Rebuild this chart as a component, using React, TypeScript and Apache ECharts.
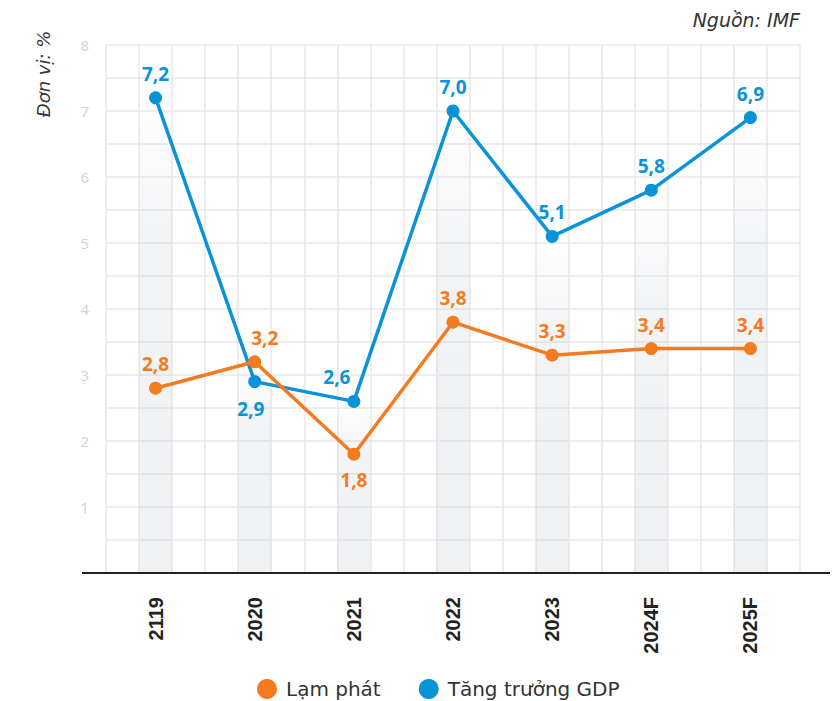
import React, { useEffect, useRef } from "react";
import * as echarts from "echarts";

const categories = ["2119", "2020", "2021", "2022", "2023", "2024F", "2025F"];
const inflation = [2.8, 3.2, 1.8, 3.8, 3.3, 3.4, 3.4];
const gdp = [7.2, 2.9, 2.6, 7.0, 5.1, 5.8, 6.9];
const yTicks = [0, 1, 2, 3, 4, 5, 6, 7, 8];

const ORANGE = "#f47b20";
const BLUE = "#0a93d6";

const fmt = (p: any) => Number(p.value).toFixed(1).replace(".", ",");

export default function App() {
  const ref = useRef<HTMLDivElement>(null);
  useEffect(() => {
    if (!ref.current) return;
    const chart = echarts.init(ref.current, undefined, { renderer: "svg" });
    const bands = categories.map((_, i) => Math.max(inflation[i], gdp[i]));
    const labelFont = { fontFamily: "Open Sans", fontWeight: "bold" as const, fontSize: 19 };
    const gdpData = gdp.map((v, i) => {
      const d: any = { value: v };
      if (i === 1) d.label = { position: "bottom", distance: 11, offset: [-4, 0] };
      if (i === 2) d.label = { position: "top", offset: [-17, 0] };
      return d;
    });
    const infData = inflation.map((v, i) => {
      const d: any = { value: v };
      if (i === 1) d.label = { position: "top", offset: [10, 0] };
      if (i === 2) d.label = { position: "bottom", distance: 10 };
      return d;
    });
    chart.setOption({
      animation: false,
      grid: { left: 106, right: 34, top: 45, bottom: 128 },
      legend: {
        data: ["Lạm phát", "Tăng trưởng GDP"],
        left: 257,
        top: 679,
        icon: "circle",
        itemWidth: 20,
        itemHeight: 20,
        itemGap: 38,
        padding: 0,
        textStyle: {
          fontFamily: "DejaVu Sans",
          fontSize: 20,
          color: "#333",
          lineHeight: 20,
          padding: [0, 0, 0, 4],
        },
      },
      xAxis: [
        {
          type: "category",
          data: categories,
          axisLine: { show: false },
          axisTick: { show: false },
          splitLine: { show: false },
          axisLabel: {
            rotate: 90,
            margin: 24,
            fontFamily: "Liberation Sans",
            fontWeight: "bold",
            fontSize: 20,
            color: "#222",
          },
        },
        {
          type: "value",
          min: 0,
          max: 21,
          interval: 1,
          position: "top",
          axisLine: { show: false },
          axisTick: { show: false },
          axisLabel: { show: false },
          splitLine: { show: true, lineStyle: { color: "#e8e8e8", width: 1.5 } },
        },
      ],
      yAxis: {
        type: "value",
        min: yTicks[0],
        max: yTicks[yTicks.length - 1],
        interval: 1,
        axisLine: { show: false },
        axisTick: { show: false },
        axisLabel: {
          margin: 17,
          fontFamily: "Open Sans",
          fontSize: 15,
          color: "#d2d2d2",
          formatter: (v: number) => (v === 0 ? "" : String(v)),
        },
        splitLine: { show: true, lineStyle: { color: "#e8e8e8", width: 1.5 } },
        minorTick: { show: false, splitNumber: 2 },
        minorSplitLine: { show: true, lineStyle: { color: "#e8e8e8", width: 1.5 } },
      },
      series: [
        {
          type: "bar",
          name: "band",
          data: bands,
          barWidth: "33.4%",
          silent: true,
          itemStyle: {
            color: new echarts.graphic.LinearGradient(0, 0, 0, 1, [
              { offset: 0, color: "rgba(190,196,206,0)" },
              { offset: 0.3, color: "rgba(190,196,206,0.2)" },
              { offset: 1, color: "rgba(190,196,206,0.24)" },
            ]),
          },
          z: 1,
        },
        {
          type: "line",
          name: "Tăng trưởng GDP",
          data: gdpData,
          color: BLUE,
          symbol: "circle",
          symbolSize: 13,
          lineStyle: { width: 3.5, color: BLUE },
          itemStyle: { color: BLUE },
          label: { show: true, position: "top", distance: 8, color: BLUE, formatter: fmt, ...labelFont },
          z: 3,
        },
        {
          type: "line",
          name: "Lạm phát",
          data: infData,
          color: ORANGE,
          symbol: "circle",
          symbolSize: 13,
          lineStyle: { width: 3.5, color: ORANGE },
          itemStyle: { color: ORANGE },
          label: { show: true, position: "top", distance: 8, color: ORANGE, formatter: fmt, ...labelFont },
          z: 4,
        },
      ],
      graphic: [
        {
          type: "line",
          shape: { x1: 82, y1: 573, x2: 830, y2: 573 },
          style: { stroke: "#222", lineWidth: 2 },
          z: 10,
        },
        {
          type: "text",
          x: 43,
          y: 74,
          rotation: Math.PI / 2,
          style: {
            text: "Đơn vị: %",
            fontFamily: "DejaVu Sans",
            fontStyle: "italic",
            fontSize: 18,
            fill: "#333",
            align: "center",
            verticalAlign: "middle",
          },
        },
        {
          type: "text",
          x: 800,
          y: 20,
          style: {
            text: "Nguồn: IMF",
            fontFamily: "DejaVu Sans",
            fontStyle: "italic",
            fontSize: 19,
            fill: "#333",
            align: "right",
            verticalAlign: "middle",
          },
        },
      ],
    });
    return () => chart.dispose();
  }, []);
  return (
    <div
      ref={ref}
      style={{ position: "absolute", left: 0, top: 0, width: 834, height: 701 }}
    />
  );
}
